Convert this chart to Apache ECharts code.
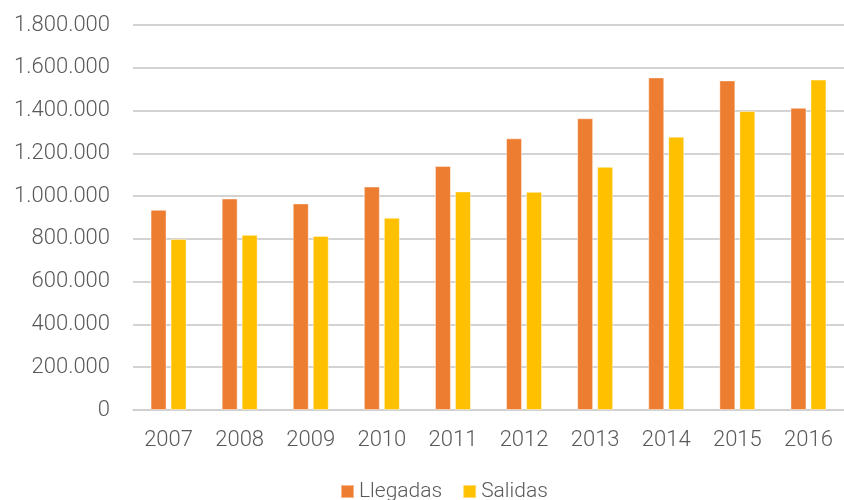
<!DOCTYPE html>
<html><head><meta charset="utf-8">
<script src="https://cdn.jsdelivr.net/npm/echarts@6/dist/echarts.min.js"></script>
<style>html,body{margin:0;padding:0;background:#fff}#c{width:844px;height:500px}</style>
</head><body><div id="c"></div>
<script>
const years = ['2007','2008','2009','2010','2011','2012','2013','2014','2015','2016'];
const llegadas = [936000, 989000, 966000, 1045000, 1141000, 1270000, 1364000, 1555000, 1541000, 1413000];
const salidas = [800000, 819000, 814000, 899000, 1022000, 1020000, 1137000, 1278000, 1398000, 1545000];
const FONT = 'Roboto, "Noto Sans", sans-serif';
const chart = echarts.init(document.getElementById('c'));
function fmt(v){return String(v).replace(/\B(?=(\d{3})+(?!\d))/g,'.');}
chart.setOption({
  animation:false,
  grid:{left:133,right:0,top:25,bottom:90,containLabel:false,outerBoundsMode:'none'},
  legend:{bottom:-7,left:335,itemWidth:13,itemHeight:13,itemGap:20,icon:'rect',
    textStyle:{fontFamily:FONT,fontWeight:300,fontSize:21,color:'#595959'},data:['Llegadas','Salidas']},
  xAxis:{type:'category',data:years,
    axisLine:{lineStyle:{color:'#d0d0d0',width:1.5}},axisTick:{show:false},
    axisLabel:{interval:0,fontFamily:FONT,fontWeight:300,fontSize:22,color:'#595959',margin:19}},
  yAxis:{type:'value',min:0,max:1800000,interval:200000,
    axisLine:{show:false},axisTick:{show:false},
    splitLine:{lineStyle:{color:'#c4c4c4',width:1.5}},
    axisLabel:{fontFamily:FONT,fontWeight:300,fontSize:22,color:'#595959',margin:23,formatter:fmt}},
  series:[
    {name:'Llegadas',type:'bar',data:llegadas,barWidth:16,barGap:'25%',
     itemStyle:{color:'#ED7D31',borderColor:'rgba(255,255,255,0.45)',borderWidth:1}},
    {name:'Salidas',type:'bar',data:salidas,barWidth:16,barGap:'25%',
     itemStyle:{color:'#FFC000',borderColor:'rgba(255,255,255,0.45)',borderWidth:1}}
  ]
});
</script></body></html>
